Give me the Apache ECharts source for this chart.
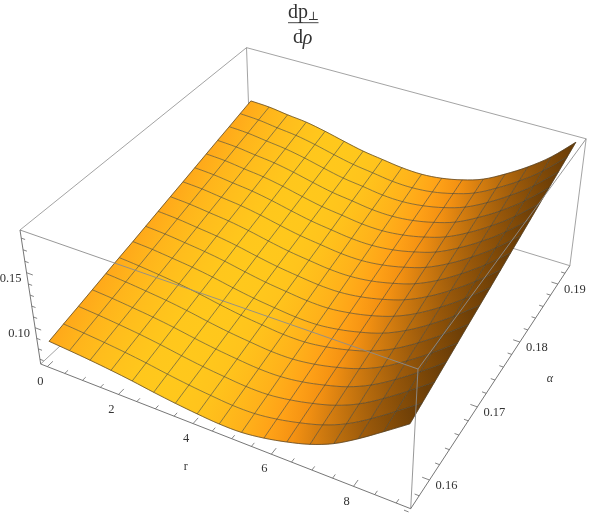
<!DOCTYPE html>
<html><head><meta charset="utf-8">
<style>html,body{margin:0;padding:0;background:#fff}#c{width:589px;height:514px}</style>
<script src="https://cdn.jsdelivr.net/npm/echarts@6/dist/echarts.min.js"></script>
</head><body><div id="c"></div>
<script>
// ---- data ----
const rValues = [0,.571,1.143,1.714,2.286,2.857,3.429,4,4.571,5.143,5.714,6.286,6.857,7.429,8,8.571,9.143];
const alphaValues = [.1571,.1593,.1616,.1638,.1660,.1682,.1705,.1727,.1749,.1771,.1794,.1816,.1838,.1860,.1883,.1905,.1927];
const zGrid = [
[.0854,.0839,.0822,.0801,.0776,.0746,.0720,.0699,.0684,.0686,.0715,.0762,.0824,.0915,.1043,.1189,.1340],
[.0888,.0873,.0856,.0835,.0809,.0778,.0751,.0730,.0714,.0716,.0744,.0791,.0853,.0945,.1072,.1219,.1372],
[.0922,.0908,.0890,.0869,.0842,.0810,.0782,.0761,.0744,.0745,.0773,.0819,.0881,.0974,.1102,.1248,.1404],
[.0956,.0942,.0923,.0902,.0875,.0842,.0813,.0791,.0774,.0775,.0801,.0848,.0910,.1004,.1131,.1278,.1436],
[.0990,.0976,.0957,.0936,.0908,.0874,.0844,.0822,.0804,.0804,.0830,.0876,.0939,.1033,.1161,.1307,.1468],
[.1024,.1010,.0991,.0970,.0941,.0906,.0875,.0853,.0834,.0833,.0859,.0904,.0968,.1063,.1190,.1337,.1500],
[.1057,.1045,.1025,.1004,.0975,.0939,.0907,.0884,.0865,.0863,.0888,.0933,.0996,.1093,.1219,.1367,.1532],
[.1091,.1079,.1059,.1037,.1008,.0971,.0938,.0915,.0895,.0892,.0917,.0961,.1025,.1122,.1249,.1396,.1563],
[.1125,.1113,.1092,.1071,.1041,.1003,.0969,.0945,.0925,.0922,.0945,.0990,.1054,.1152,.1278,.1426,.1595],
[.1159,.1147,.1126,.1105,.1074,.1035,.1000,.0976,.0955,.0952,.0974,.1019,.1082,.1181,.1308,.1456,.1627],
[.1193,.1182,.1160,.1139,.1107,.1067,.1031,.1007,.0985,.0981,.1003,.1047,.1111,.1211,.1337,.1485,.1659],
[.1227,.1216,.1194,.1173,.1140,.1099,.1062,.1037,.1015,.1011,.1032,.1076,.1139,.1241,.1366,.1515,.1691],
[.1261,.1251,.1228,.1207,.1173,.1131,.1093,.1069,.1045,.1040,.1061,.1104,.1168,.1270,.1396,.1544,.1723],
[.1295,.1285,.1262,.1241,.1206,.1163,.1124,.1100,.1075,.1070,.1090,.1133,.1197,.1300,.1425,.1574,.1755],
[.1329,.1319,.1296,.1274,.1239,.1195,.1155,.1131,.1105,.1099,.1119,.1161,.1226,.1329,.1455,.1603,.1787],
[.1363,.1353,.1329,.1308,.1272,.1227,.1187,.1161,.1135,.1129,.1147,.1190,.1254,.1359,.1484,.1633,.1819],
[.1396,.1387,.1362,.1342,.1305,.1260,.1218,.1191,.1166,.1158,.1176,.1218,.1283,.1389,.1513,.1662,.1851]
];
const rShade = ['#FFA91A','#FFB41B','#FFBC1C','#FFC21C','#FFC71C','#FFC81C','#FFC71C','#FFC31C','#FFBA1B','#FFB01A','#FFA217','#F59212','#D67E10','#B86C0D','#9C5A0B','#844C08','#6C3E07'];
const rTicks = [0,.5,1,1.5,2,2.5,3,3.5,4,4.5,5,5.5,6,6.5,7,7.5,8,8.5,9];
const rLabels = [0,2,4,6,8];
const alphaTicks = [.156,.158,.16,.162,.164,.166,.168,.17,.172,.174,.176,.178,.18,.182,.184,.186,.188,.19,.192];
const alphaLabels = [.16,.17,.18,.19];
const zTicks = [.07,.08,.09,.10,.11,.12,.13,.14,.15,.16,.17,.18];
const zLabels = [.10,.15];

// ---- camera (unit box -> picture) ----
const A=[325.3,89.34],B=[263.8,-159.7],C=[-22.07,-149.72],O=[40.7,364],pa=-.10882,pb=.214,pc=-.06836;
const project=(u,v,w)=>{const d=1+pa*u+pb*v+pc*w;return [(A[0]*u+B[0]*v+C[0]*w+O[0])/d,(A[1]*u+B[1]*v+C[1]*w+O[1])/d];};
const uOf=r=>.02+.105*r, vOf=a=>.0974+(a-.16)*27.02, wOf=z=>(z-.0654)/.1215;
const pt=(i,j)=>project(uOf(rValues[i]),vOf(alphaValues[j]),wOf(zGrid[j][i]));
// smooth drawing of a row between two mesh points (Catmull-Rom on the projected points)
const rowCurve=(i,j)=>{
  const p0=pt(Math.max(i-1,0),j),p1=pt(i,j),p2=pt(i+1,j),p3=pt(Math.min(i+2,16),j),out=[];
  for(let s=0;s<=4;s++){const t=s/4,t2=t*t,t3=t2*t;
    out.push([0,1].map(k=>.5*(2*p1[k]+(p2[k]-p0[k])*t+(2*p0[k]-5*p1[k]+4*p2[k]-p3[k])*t2+(3*p1[k]-p0[k]-3*p2[k]+p3[k])*t3)));}
  return out;
};

const SERIF='"Liberation Serif","DejaVu Serif",serif', TEXT='#333';
const seg=(api,a,b,stroke,lw)=>{const p=api.coord(project(...a)),q=api.coord(project(...b));
  return {type:'line',shape:{x1:p[0],y1:p[1],x2:q[0],y2:q[1]},style:{stroke,lineWidth:lw},silent:true};};
const txt=(api,p,dx,dy,text,font,fill)=>{const c=api.coord(p);
  return {type:'text',x:c[0]+dx,y:c[1]+dy,style:{text,font,fill:fill||TEXT,align:'center',verticalAlign:'middle'},silent:true};};

const cells=[];for(let j=15;j>=0;j--)for(let i=0;i<16;i++)cells.push([i,j]);
const meshLines=[];for(let k=0;k<17;k++){meshLines.push([0,k]);meshLines.push([1,k]);}
const backEdges=[[[0,0,0],[0,1,0]],[[0,1,0],[1,1,0]],[[0,1,0],[0,1,1]],[[0,1,1],[1,1,1]],[[0,0,1],[0,1,1]],[[1,1,0],[1,1,1]]];
const frontEdges=[[[0,0,1],[1,0,1]],[[1,0,1],[1,1,1]],[[1,0,0],[1,0,1]]];
const axisEdges=[[[0,0,0],[1,0,0]],[[1,0,0],[1,1,0]],[[0,0,0],[0,0,1]]];

function renderCell(params,api){
  const i=api.value(0),j=api.value(1);
  const low=rowCurve(i,j),high=rowCurve(i,j+1).reverse();
  const P=low.concat(high).map(p=>api.coord(p));
  const a=api.coord(pt(i,j)),b=api.coord(pt(i,j+1)),c=api.coord(pt(i+1,j)),d=api.coord(pt(i+1,j+1));
  const fill=new echarts.graphic.LinearGradient((a[0]+b[0])/2,(a[1]+b[1])/2,(c[0]+d[0])/2,(c[1]+d[1])/2,[{offset:0,color:rShade[i]},{offset:1,color:rShade[i+1]}],true);
  return {type:'polygon',shape:{points:P},style:{fill,stroke:fill,lineWidth:.4},silent:true};
}
function renderMesh(params,api){
  const dir=api.value(0),k=api.value(1);let pts=[];
  if(dir){for(let t=0;t<17;t++)pts.push(pt(k,t));}
  else{for(let t=0;t<16;t++)pts=pts.concat(rowCurve(t,k));}
  const edge=(k===0||k===16);
  return {type:'polyline',shape:{points:pts.map(p=>api.coord(p))},style:{fill:'none',stroke:edge?'#4a3a20':'rgba(65,65,55,.75)',lineWidth:edge?.7:.8},silent:true};
}
function renderBack(params,api){const e=backEdges[api.value(0)];return seg(api,e[0],e[1],'#8c8c8c',.8);}
function renderFront(params,api){const e=frontEdges[api.value(0)];return seg(api,e[0],e[1],'#8c8c8c',.9);}
function renderAxes(params,api){
  const ch=[];
  axisEdges.forEach(e=>ch.push(seg(api,e[0],e[1],'#666',.9)));
  rTicks.forEach((r,n)=>{const u=uOf(r),l=n%4===0?.022:.013;ch.push(seg(api,[u,0,0],[u,l,0],'#666',.8));});
  alphaTicks.forEach((a,n)=>{const v=vOf(a),l=(n-2)%5===0?.018:.011;ch.push(seg(api,[1,v,0],[1-l,v,0],'#666',.8));});
  zTicks.forEach((z,n)=>{const w=wOf(z),l=(n-3)%5===0?.018:.011;ch.push(seg(api,[0,0,w],[l,0,w],'#666',.8));});
  const f='12.5px '+SERIF;
  rLabels.forEach(r=>ch.push(txt(api,project(uOf(r),0,0),-7,15,String(r),f)));
  alphaLabels.forEach(a=>ch.push(txt(api,project(1,vOf(a),0),17,6,a.toFixed(2),f)));
  zLabels.forEach(z=>ch.push(txt(api,project(0,0,wOf(z)),-16,5.6,z.toFixed(2),f)));
  ch.push(txt(api,[185.7,466.7],0,0,'r','12px '+SERIF));
  ch.push(txt(api,[550,379],0,0,'α','italic 12px '+SERIF));
  ch.push(txt(api,[298,13],0,0,'dp','20px '+SERIF));
  ch.push(txt(api,[313.5,17],0,0,'⊥','12px "DejaVu Serif",serif'));
  ch.push({type:'line',shape:{x1:api.coord([288,0])[0],y1:api.coord([0,22.7])[1],x2:api.coord([318.5,0])[0],y2:api.coord([0,22.7])[1]},style:{stroke:'#333',lineWidth:.9},silent:true});
  ch.push(txt(api,[298,38],0,0,'d','20px '+SERIF));
  ch.push(txt(api,[307.5,39],0,0,'ρ','italic 20px '+SERIF));
  return {type:'group',children:ch};
}
const custom=(data,renderItem,z)=>({type:'custom',coordinateSystem:'cartesian2d',data,renderItem,z,clip:false,silent:true,animation:false});
const chart=echarts.init(document.getElementById('c'),null,{renderer:'canvas'});
chart.setOption({
  animation:false,backgroundColor:'#fff',
  grid:{left:0,right:0,top:0,bottom:0},
  xAxis:{type:'value',min:0,max:589,show:false},
  yAxis:{type:'value',min:0,max:514,inverse:true,show:false},
  tooltip:{show:false},
  series:[
    custom(backEdges.map((e,n)=>[n]),renderBack,1),
    custom(cells,renderCell,2),
    custom(meshLines,renderMesh,3),
    custom(frontEdges.map((e,n)=>[n]),renderFront,4),
    custom([[0]],renderAxes,5)
  ]
});
</script></body></html>
